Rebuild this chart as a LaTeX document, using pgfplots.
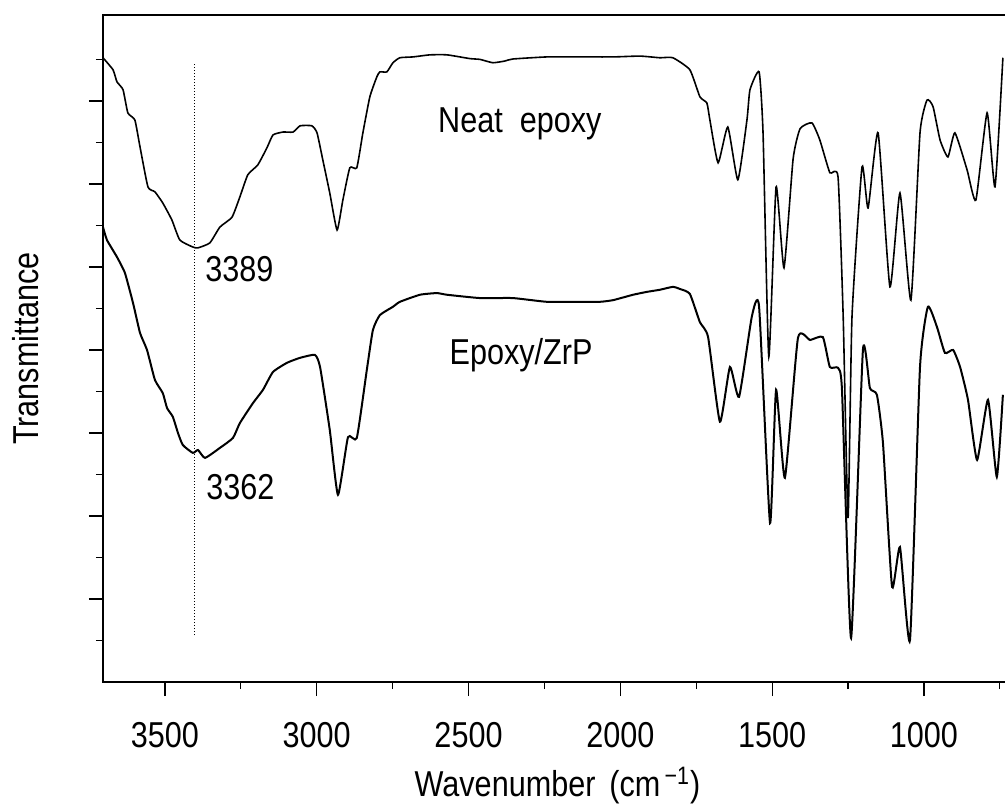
\documentclass[border=0pt]{standalone}
\usepackage{pgfplots}
\pgfplotsset{compat=1.18}
\usepackage{fontspec}
\setmainfont{Liberation Sans}[FakeStretch=0.85]
\newcommand\lbl{\fontsize{18}{22}\selectfont}
\pgfplotstableread{
w y
3704 15.04
3671 14.75
3658 14.46
3638 14.27
3622 13.71
3599 13.54
3582 12.89
3556 11.93
3533 11.81
3507 11.54
3477 11.13
3451 10.65
3408 10.48
3391 10.46
3352 10.58
3319 10.96
3279 11.20
3253 11.69
3227 12.22
3194 12.46
3164 12.87
3144 13.18
3111 13.25
3078 13.25
3055 13.40
3016 13.40
2999 13.23
2980 12.58
2957 11.78
2933 10.89
2914 11.61
2891 12.39
2868 12.39
2848 13.23
2825 14.10
2802 14.58
2792 14.70
2769 14.70
2749 14.92
2726 15.04
2683 15.06
2627 15.11
2571 15.11
2496 15.02
2462 15.00
2420 14.92
2381 14.96
2354 15.01
2242 15.06
2133 15.06
2024 15.06
1935 15.08
1870 15.04
1827 15.04
1771 14.75
1738 14.10
1715 13.95
1705 13.54
1678 12.51
1646 13.37
1613 12.10
1583 13.54
1573 14.27
1543 14.70
1530 13.23
1511 7.83
1487 11.93
1461 9.98
1431 12.60
1408 13.33
1369 13.47
1343 13.06
1310 12.27
1283 12.17
1266 8.80
1250 3.95
1237 8.80
1204 12.41
1184 11.42
1151 13.23
1112 9.52
1079 11.78
1043 9.20
1013 13.23
990 14.02
970 13.86
947 13.06
921 12.65
898 13.23
858 12.34
829 11.61
792 13.71
766 11.93
740 15.04
}\neat
\pgfplotstableread{
w y
3704 10.96
3691 10.65
3658 10.24
3632 9.86
3605 9.13
3582 8.41
3559 8.00
3533 7.28
3507 6.96
3493 6.60
3474 6.39
3457 6.00
3441 5.71
3408 5.52
3391 5.59
3368 5.40
3319 5.64
3276 5.88
3253 6.24
3210 6.72
3177 7.04
3144 7.47
3098 7.69
3055 7.81
3006 7.88
2989 7.59
2957 6.07
2930 4.51
2897 5.90
2868 5.88
2835 7.52
2815 8.48
2792 8.84
2749 9.04
2726 9.16
2660 9.33
2604 9.37
2571 9.33
2462 9.25
2354 9.25
2242 9.16
2133 9.16
2067 9.16
2024 9.20
1958 9.33
1912 9.40
1870 9.45
1827 9.52
1804 9.47
1771 9.35
1738 8.67
1711 8.31
1672 6.27
1639 7.59
1609 6.87
1567 8.80
1543 9.04
1507 3.83
1487 7.04
1458 4.92
1415 8.29
1375 8.24
1333 8.31
1310 7.59
1283 7.57
1270 7.04
1240 1.06
1201 8.00
1178 7.08
1155 6.92
1135 5.76
1105 2.29
1079 3.25
1046 1.01
1013 7.59
987 9.04
957 8.55
931 7.93
904 8.00
881 7.59
855 6.80
825 5.35
789 6.80
760 4.94
740 6.92
}\zrp
\begin{document}
\begin{tikzpicture}
\begin{axis}[
  at={(0,0)}, anchor=south west,
  scale only axis, width=454.5pt, height=333.5pt,
  x dir=reverse, xmin=710, xmax=3704, ymin=0, ymax=16.07,
  xtick={1000,1500,...,3500}, minor xtick={750,1250,...,3250},
  ytick={2,4,...,14}, minor ytick={1,3,...,15}, yticklabels={},
  xtick pos=bottom, ytick pos=left, tick align=outside,
  major tick length=7pt, minor tick length=3.5pt,
  tick style={black, line width=0.6pt},
  axis line style={line width=0.8pt},
  /pgf/number format/1000 sep={},
  /pgf/number format/assume math mode=true,
  scaled ticks=false,
  tick label style={font=\lbl},
  xticklabel style={anchor=base, yshift=-25.5pt},
  xlabel={Wavenumber\hspace{7pt}(cm\textsuperscript{\,−1})},
  ylabel={Transmittance},
  xlabel style={font=\lbl, at={(axis description cs:0.5,-0.1724)}, anchor=base},
  ylabel style={font=\lbl, at={(axis description cs:-0.0704,0.5)}, anchor=base},
]
\addplot[black, densely dotted, line width=0.5pt] coordinates {(3404,1.13) (3404,14.93)};
\addplot[black, line width=0.8pt, smooth, tension=0.3] table[x=w, y=y] {\neat};
\addplot[black, line width=1pt, smooth, tension=0.3] table[x=w, y=y] {\zrp};
\node[font=\lbl, anchor=base] at (axis cs:2331,13.25) {Neat\hspace{8.5pt}epoxy};
\node[font=\lbl, anchor=base] at (axis cs:2327,7.64) {Epoxy/ZrP};
\node[font=\lbl, anchor=base west, inner sep=0pt] at (axis cs:3368,9.64) {3389};
\node[font=\lbl, anchor=base west, inner sep=0pt] at (axis cs:3365,4.39) {3362};
\end{axis}
\pgfresetboundingbox
\useasboundingbox (-51.5pt,-63.5pt) rectangle (451pt,341pt);
\end{tikzpicture}
\end{document}
